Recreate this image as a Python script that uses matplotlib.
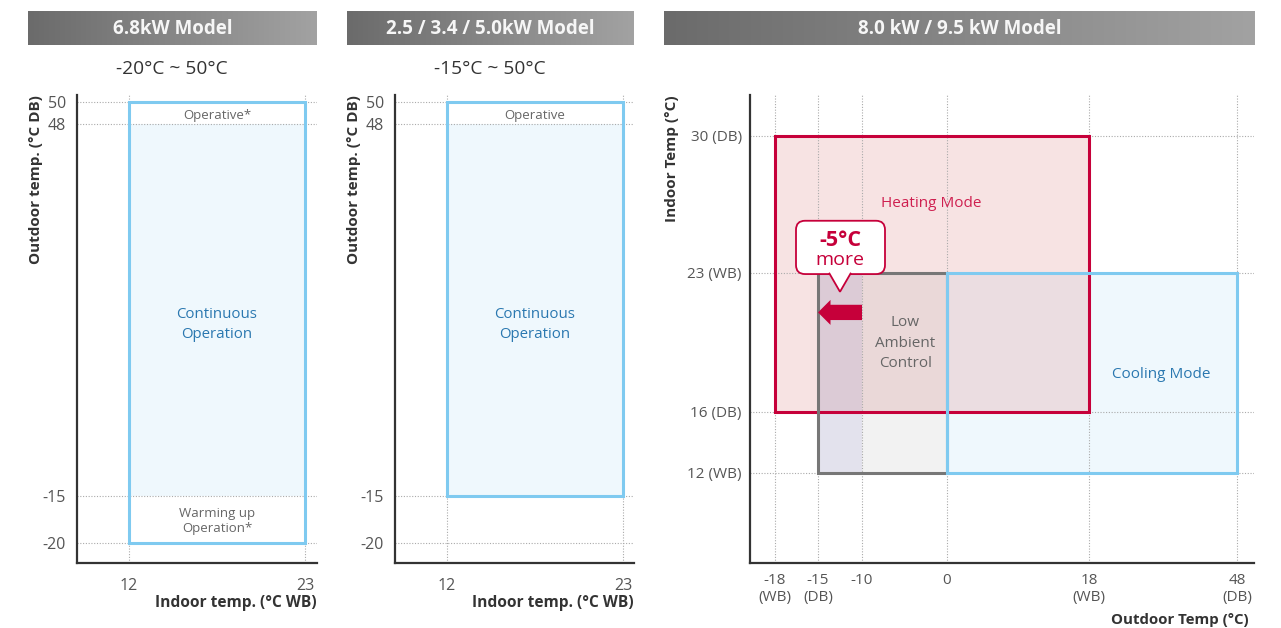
import numpy as np
import matplotlib
matplotlib.use('Agg')
import matplotlib.pyplot as plt
from matplotlib.colors import LinearSegmentedColormap
from matplotlib.patches import Rectangle, FancyBboxPatch, Polygon
from matplotlib.transforms import ScaledTranslation

plt.rcParams['font.family'] = ['Open Sans', 'DejaVu Sans']
plt.rcParams['axes.unicode_minus'] = False

# ---- data ----
titles = ['6.8kW Model', '2.5 / 3.4 / 5.0kW Model', '8.0 kW / 9.5 kW Model']
ranges = ['-20°C ~ 50°C', '-15°C ~ 50°C']

indoor_ticks = [12, 23]
outdoor_ticks = [-20, -15, 48, 50]
indoor_range = [12, 23]
outdoor_68 = [-20, 50]          # 6.8kW operating range
outdoor_std = [-15, 50]         # 2.5/3.4/5.0kW operating range
continuous = [-15, 48]          # continuous operation band

r_x_ticks = [-18, -15, -10, 0, 18, 48]
r_x_labels = ['-18\n(WB)', '-15\n(DB)', '-10', '0', '18\n(WB)', '48\n(DB)']
r_y_ticks = [12, 16, 23, 30]
r_y_labels = ['12 (WB)', '16 (DB)', '23 (WB)', '30 (DB)']
heating_x, heating_y = [-18, 18], [16, 30]
cooling_x, cooling_y = [0, 48], [12, 23]
lowamb_x, lowamb_y = [-15, 0], [12, 23]
extend_x = [-15, -10]           # extra 5 degrees

# ---- colours ----
RED = '#c6003a'
BLUE_EDGE = '#7fcaf0'
BLUE_FILL = '#eff8fd'
BLUE_TXT = '#2a78b0'
GRAY_TXT = '#666666'
TICK = '#555555'

W, H = 1281, 628


def rect(l, t, r, b):
    return [l / W, 1 - b / H, (r - l) / W, (b - t) / H]


def pw(x, a, b):
    x = np.asarray(x, float)
    y = np.interp(x, a, b)
    y = np.where(x < a[0], b[0] + (x - a[0]) * (b[1] - b[0]) / (a[1] - a[0]), y)
    y = np.where(x > a[-1], b[-1] + (x - a[-1]) * (b[-1] - b[-2]) / (a[-1] - a[-2]), y)
    return y


def warp(ax, axis, vals, px):
    # piecewise linear axis, like the brochure
    v = np.array(vals, float)
    p = np.array(px, float)
    if axis == 'y':
        p = -p
    fns = (lambda x: pw(x, v, p), lambda y: pw(y, p, v))
    if axis == 'x':
        ax.set_xscale('function', functions=fns)
        ax.set_xlim(v[0], v[-1])
    else:
        ax.set_yscale('function', functions=fns)
        ax.set_ylim(v[0], v[-1])


def style(ax):
    ax.spines[['top', 'right']].set_visible(False)
    for s in ['left', 'bottom']:
        ax.spines[s].set_color('#333333')
        ax.spines[s].set_linewidth(1.6)
    ax.tick_params(length=0, labelcolor=TICK)
    ax.grid(True, ls=(0, (1, 1.5)), color='#aaaaaa', lw=0.8)


def header(l, r, text):
    hx = fig.add_axes(rect(l, 11, r, 45))
    grad = np.linspace(0, 1, 256).reshape(1, -1)
    cm = LinearSegmentedColormap.from_list('g', ['#6b6b6b', '#a2a2a2'])
    hx.imshow(grad, aspect='auto', cmap=cm, extent=(0, 1, 0, 1))
    hx.set_axis_off()
    hx.text(0.5, 0.47, text, color='#f6f6f6', fontsize=13.5, fontweight='bold',
            ha='center', va='center', transform=hx.transAxes)


fig = plt.figure(figsize=(12.81, 6.28), dpi=100)

# ---- two small model panels ----
panels = [(77, 317, outdoor_68, True), (395, 634, outdoor_std, False)]
for i, (l, r, rng, warm) in enumerate(panels):
    ax = fig.add_axes(rect(l, 95, r, 563))
    style(ax)
    ax.set_xlim(12 - 52 / 16, 23 + (r - l - 228) / 16)
    warp(ax, 'y', [-22.2, -20, -15, 48, 50, 50.6], [563, 542.7, 496, 123.7, 101.7, 95])
    ax.set_xticks(indoor_ticks)
    ax.set_yticks(outdoor_ticks)
    ax.tick_params(axis='x', labelsize=11.5, pad=11)
    ax.tick_params(axis='y', labelsize=11.5, pad=8)

    ax.add_patch(Rectangle((indoor_range[0], continuous[0]), indoor_range[1] - indoor_range[0],
                           continuous[1] - continuous[0], fc=BLUE_FILL, ec='none', zorder=0.5))
    ax.add_patch(Rectangle((indoor_range[0], rng[0]), indoor_range[1] - indoor_range[0],
                           rng[1] - rng[0], fc='none', ec=BLUE_EDGE, lw=2.2, zorder=3))
    xm = np.mean(indoor_range)
    ax.text(xm, 48.75, 'Operative*' if warm else 'Operative', ha='center', va='center',
            fontsize=9.5, color=GRAY_TXT)
    ax.text(xm, 14.0, 'Continuous\nOperation', ha='center', va='center', fontsize=10.8,
            color=BLUE_TXT, linespacing=1.5)
    if warm:
        ax.text(xm, -17.65, 'Warming up\nOperation*', ha='center', va='center',
                fontsize=9.5, color=GRAY_TXT, linespacing=1.25)

    fig.text((l - 41) / W, 1 - 95 / H, 'Outdoor temp. (°C DB)', rotation=90, ha='center',
             va='top', fontsize=11, fontweight='bold', color='#333333')
    fig.text(r / W, 1 - 603 / H, 'Indoor temp. (°C WB)', ha='right', va='center',
             fontsize=11.2, fontweight='bold', color='#333333')
    fig.text((l + 95) / W, 1 - 69 / H, ranges[i], ha='center', va='center',
             fontsize=13.8, color='#333333')

header(28, 317, titles[0])
header(347, 634, titles[1])
header(664, 1255, titles[2])

# ---- 8.0 / 9.5 kW panel ----
ax = fig.add_axes(rect(750, 95, 1254, 563))
style(ax)
warp(ax, 'x', [-19.75, -18, -15, -10, 0, 18, 48, 51.4], [750, 775, 818, 862, 947, 1089, 1237, 1254])
warp(ax, 'y', [6.1, 12, 16, 23, 30, 32.1], [563, 473, 411.7, 272.7, 136, 95])
ax.set_xticks(r_x_ticks, r_x_labels)
ax.set_yticks(r_y_ticks, r_y_labels)
ax.tick_params(axis='x', labelsize=11, pad=7)
ax.tick_params(axis='y', labelsize=11, pad=6)
for lab in ax.get_xticklabels():
    lab.set_linespacing(1.2)


def box(xs, ys, **kw):
    return ax.add_patch(Rectangle((xs[0], ys[0]), xs[1] - xs[0], ys[1] - ys[0], **kw))


box(cooling_x, cooling_y, fc=BLUE_FILL, ec='none', zorder=0.4)
box(heating_x, heating_y, fc=(0.86, 0.45, 0.45, 0.2), ec='none', zorder=0.45)
box(lowamb_x, lowamb_y, fc=(0.5, 0.5, 0.5, 0.1), ec='none', zorder=0.5)
box(extend_x, lowamb_y, fc=(0.39, 0.35, 0.78, 0.1), ec='none', zorder=0.55)
box(heating_x, heating_y, fc='none', ec=RED, lw=2.2, zorder=3)
box(lowamb_x, lowamb_y, fc='none', ec='#777777', lw=2.2, zorder=3.1)
box(cooling_x, cooling_y, fc='none', ec=BLUE_EDGE, lw=2.2, zorder=3.2)

ax.text(-1.9, 26.55, 'Heating Mode', ha='center', va='center', fontsize=11, color='#cf2050')
ax.text(32.6, 17.85, 'Cooling Mode', ha='center', va='center', fontsize=11, color=BLUE_TXT)
ax.text(-4.9, 19.45, 'Low\nAmbient\nControl', ha='center', va='center', fontsize=11,
        color=GRAY_TXT, linespacing=1.5)

# arrow: 5 degrees lower
ax.annotate('', xy=(extend_x[0], 21.0), xytext=(extend_x[1], 21.0),
            arrowprops=dict(arrowstyle='simple,head_length=0.45,head_width=0.9,tail_width=0.55',
                            fc=RED, ec='none', mutation_scale=20, shrinkA=0, shrinkB=0),
            zorder=4)

# callout bubble, drawn in inches from the pointer tip
tr = fig.dpi_scale_trans + ScaledTranslation(np.mean(extend_x), 22.04, ax.transData)
bub = FancyBboxPatch((-0.44, 0.177), 0.89, 0.533, boxstyle='round,pad=0,rounding_size=0.09',
                     fc='white', ec=RED, lw=1.3, transform=tr, zorder=5)
ax.add_patch(bub)
ax.add_patch(Polygon([(-0.11, 0.19), (0, 0), (0.11, 0.19)], closed=False, fc='white', ec=RED,
                     lw=1.3, transform=tr, zorder=5.1, clip_on=False))
ax.text(0, 0.51, '-5°C', transform=tr, ha='center', va='center', fontsize=15.5,
        fontweight='bold', color=RED, zorder=6)
ax.text(0, 0.32, 'more', transform=tr, ha='center', va='center', fontsize=14,
        color=RED, zorder=6)

fig.text(672 / W, 1 - 95 / H, 'Indoor Temp (°C)', rotation=90, ha='center', va='top',
         fontsize=11, fontweight='bold', color='#333333')
fig.text(1249 / W, 1 - 620 / H, 'Outdoor Temp (°C)', ha='right', va='center',
         fontsize=10.8, fontweight='bold', color='#333333')

fig.savefig('out.png', dpi=100)
